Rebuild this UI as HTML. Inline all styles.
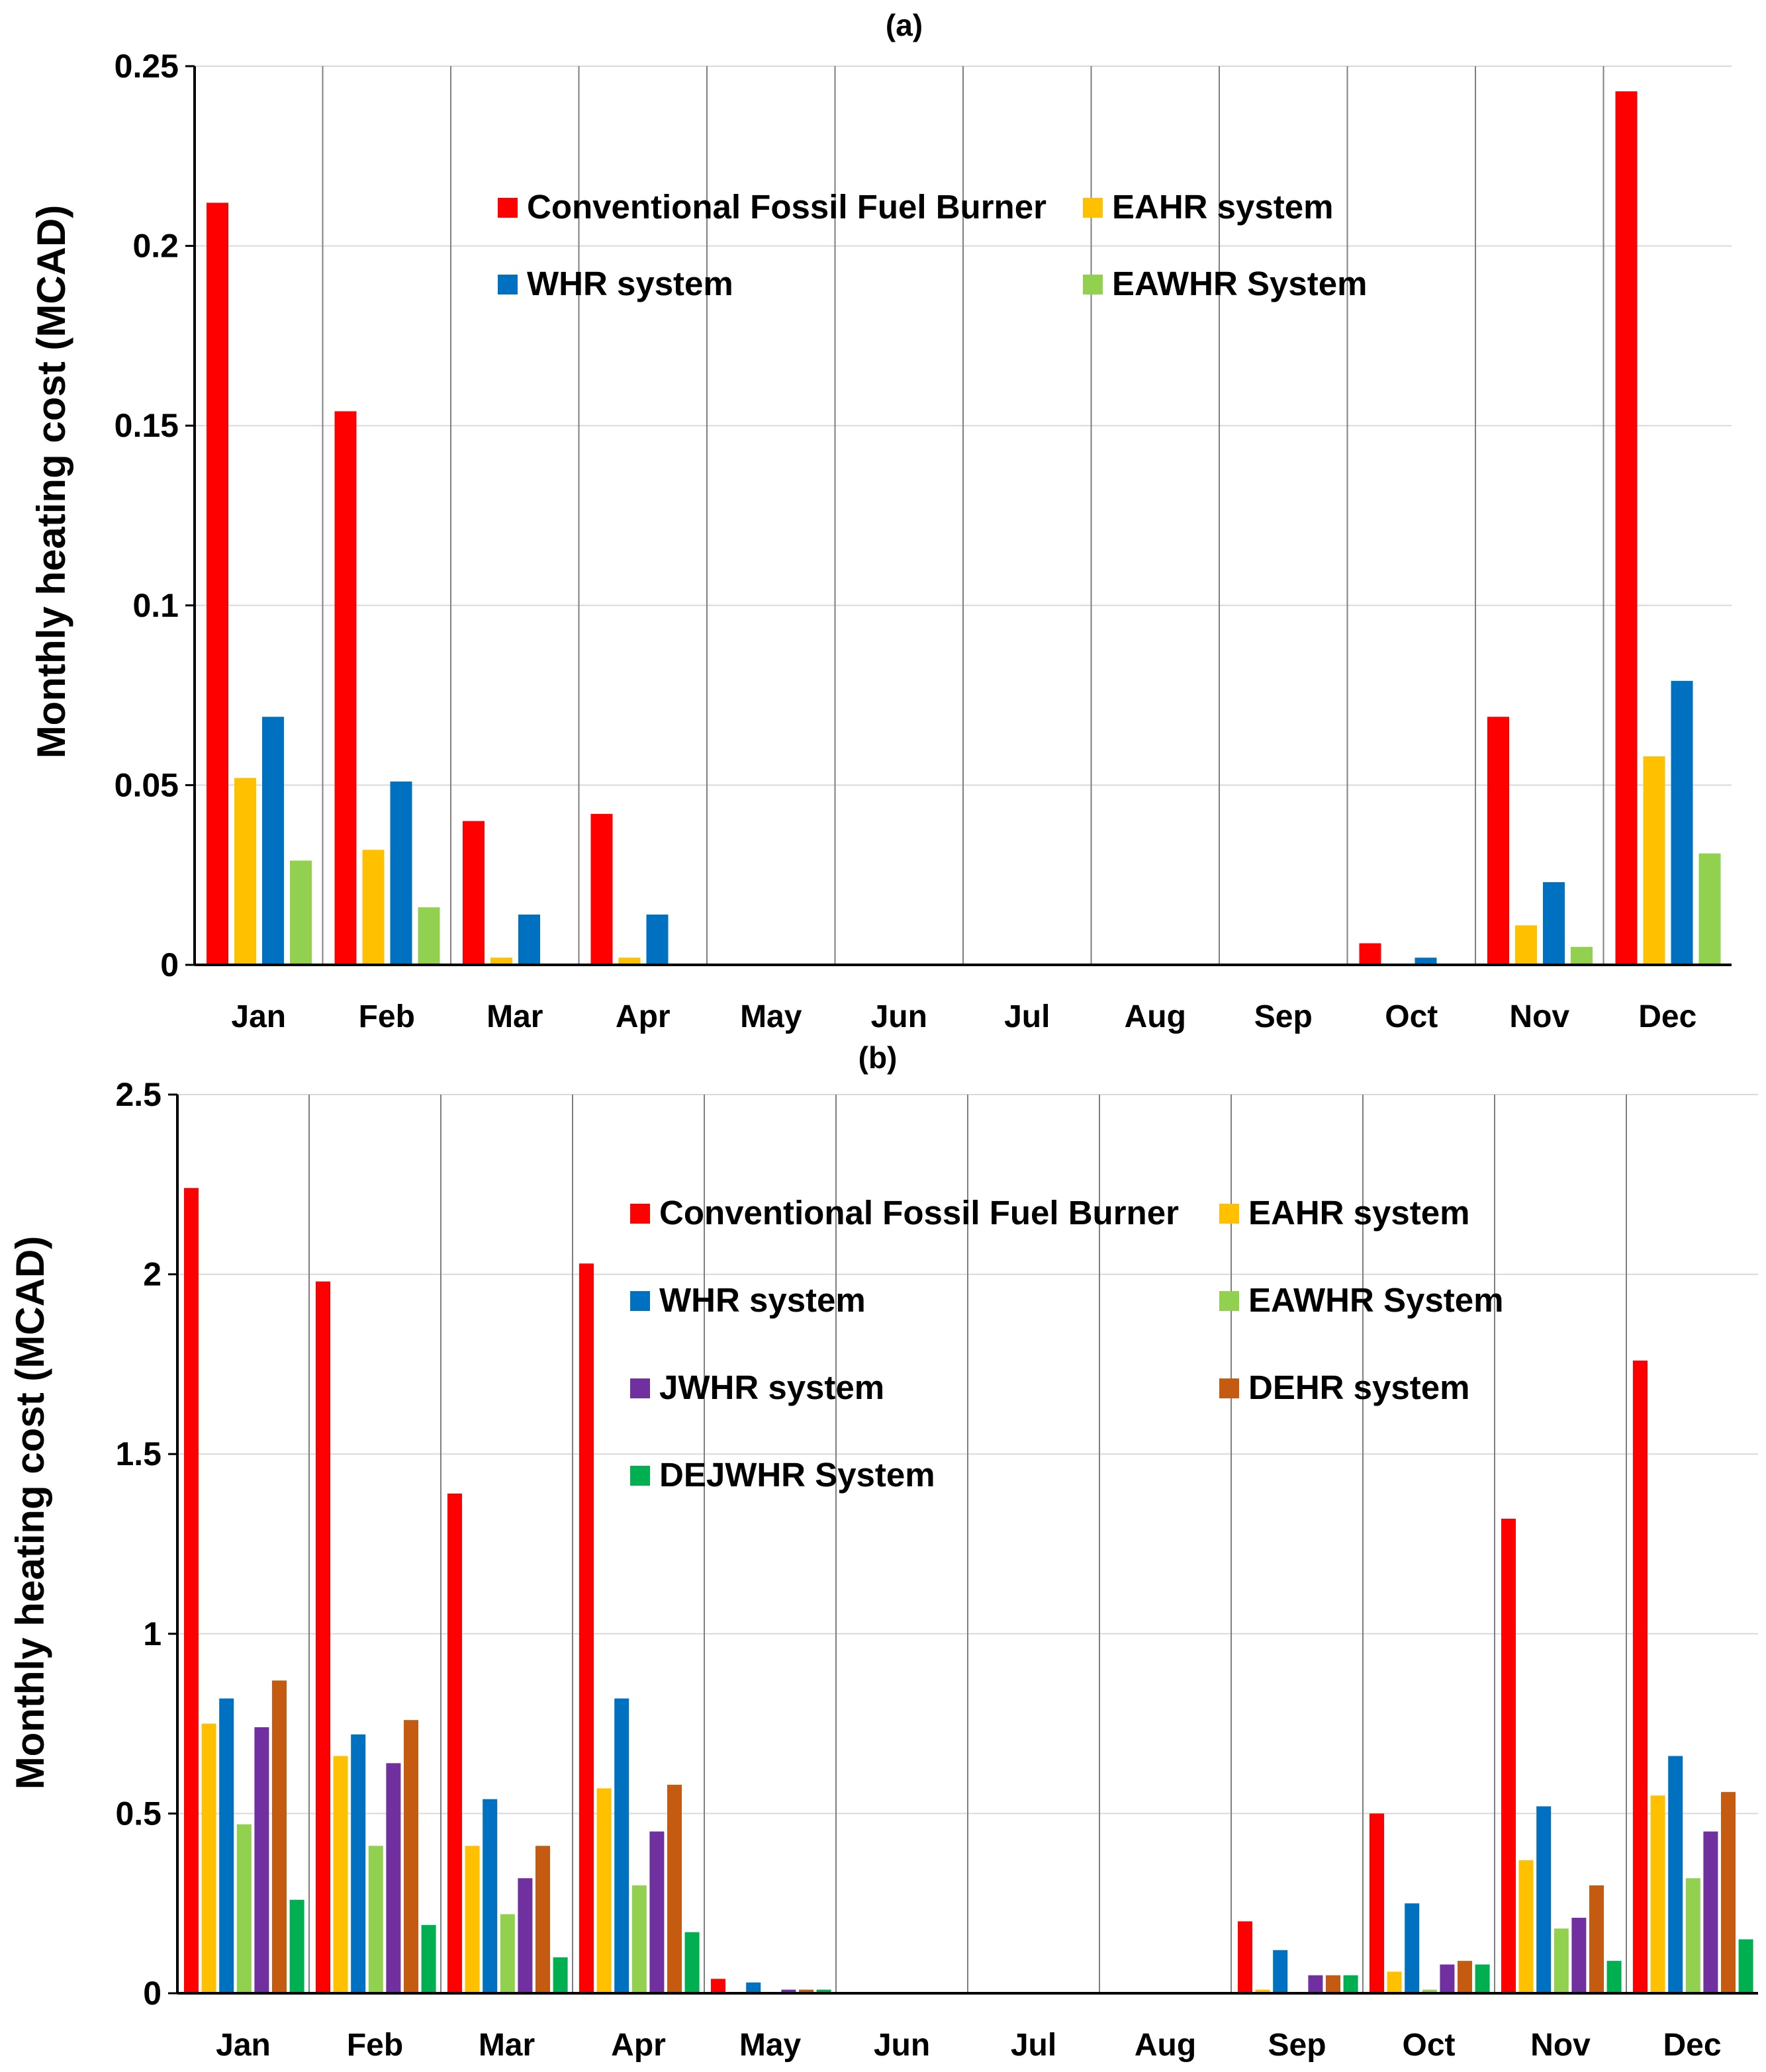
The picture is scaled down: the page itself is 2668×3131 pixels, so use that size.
<!DOCTYPE html>
<html><head><meta charset="utf-8"><style>
body{margin:0;background:#fff}
svg text{font-family:"Liberation Sans",sans-serif;font-weight:bold;fill:#000}
</style></head><body>
<svg id="chart" xmlns="http://www.w3.org/2000/svg" width="2668" height="3126" viewBox="0 0 2668 3126"></svg>
<script>
const months = ["Jan","Feb","Mar","Apr","May","Jun","Jul","Aug","Sep","Oct","Nov","Dec"];
const seriesNamesA = ["Conventional Fossil Fuel Burner","EAHR system","WHR system","EAWHR System"];
const fossilA = [0.212,0.154,0.040,0.042,0,0,0,0,0,0.006,0.069,0.243];
const eahrA   = [0.052,0.032,0.002,0.002,0,0,0,0,0,0,0.011,0.058];
const whrA    = [0.069,0.051,0.014,0.014,0,0,0,0,0,0.002,0.023,0.079];
const eawhrA  = [0.029,0.016,0,0,0,0,0,0,0,0,0.005,0.031];
const ticksA  = ["0","0.05","0.1","0.15","0.2","0.25"];
const tickValsA = [0,0.05,0.1,0.15,0.2,0.25];

const seriesNamesB = ["Conventional Fossil Fuel Burner","EAHR system","WHR system","EAWHR System","JWHR system","DEHR system","DEJWHR System"];
const fossilB = [2.24,1.98,1.39,2.03,0.04,0,0,0,0.20,0.50,1.32,1.76];
const eahrB   = [0.75,0.66,0.41,0.57,0,0,0,0,0.01,0.06,0.37,0.55];
const whrB    = [0.82,0.72,0.54,0.82,0.03,0,0,0,0.12,0.25,0.52,0.66];
const eawhrB  = [0.47,0.41,0.22,0.30,0,0,0,0,0,0.01,0.18,0.32];
const jwhrB   = [0.74,0.64,0.32,0.45,0.01,0,0,0,0.05,0.08,0.21,0.45];
const dehrB   = [0.87,0.76,0.41,0.58,0.01,0,0,0,0.05,0.09,0.30,0.56];
const dejwhrB = [0.26,0.19,0.10,0.17,0.01,0,0,0,0.05,0.08,0.09,0.15];
const ticksB  = ["0","0.5","1","1.5","2","2.5"];
const tickValsB = [0,0.5,1,1.5,2,2.5];

const svg = document.getElementById('chart');
const NS = "http://www.w3.org/2000/svg";
function mk(tag, attrs, parent){const e=document.createElementNS(NS,tag);for(const k in attrs)e.setAttribute(k,attrs[k]);(parent||svg).appendChild(e);return e;}

function drawChart(cfg){
  const g = mk('g',{});
  
  
  const mw = (cfg.x1 - cfg.x0) / months.length;
  const y = v => cfg.yb - (v / cfg.ymax) * (cfg.yb - cfg.yt);
  const xm = i => cfg.x0 + i * mw;
  cfg.tickVals.forEach((v,i)=>{
    if(v>0){const l=mk('line',{x1:cfg.x0,x2:cfg.x1,y1:y(v),y2:y(v),stroke:'#d9d9d9','stroke-width':2},g);
      
      }
    const t=mk('line',{x1:cfg.x0-14,x2:cfg.x0,y1:y(v),y2:y(v),stroke:'#000','stroke-width':3},g);
    
    
    const tx=mk('text',{x:cfg.x0-24,y:y(v)+17,'text-anchor':'end','font-size':50},g);
    tx.textContent=cfg.tickLabels[i];
    
    
  });
  for(let i=1;i<months.length;i++){
    const l=mk('line',{x1:xm(i),x2:xm(i),y1:cfg.yt,y2:cfg.yb,stroke:'#7f7f7f','stroke-width':2},g);
    
    
  }
  cfg.series.forEach((s,si)=>{
    s.forEach((v,mi)=>{
      if(v<=0) return;
      const r=mk('rect',{x:xm(mi)+cfg.off+si*cfg.step,y:y(v),width:cfg.bw,height:cfg.yb-y(v),fill:cfg.colors[si]},g);
      
      
    });
  });
  const ax=mk('line',{x1:cfg.x0,x2:cfg.x0,y1:cfg.yt,y2:cfg.yb,stroke:'#000','stroke-width':4},g);
  
  
  const bx=mk('line',{x1:cfg.x0,x2:cfg.x1,y1:cfg.yb,y2:cfg.yb,stroke:'#000','stroke-width':4},g);
  
  
  months.forEach((m,i)=>{
    const t=mk('text',{x:xm(i)+mw/2,y:cfg.yb+94,'text-anchor':'middle','font-size':48},g);
    t.textContent=m;
    
    
  });
  const yt=mk('text',{x:0,y:0,'text-anchor':'middle','font-size':60,transform:`translate(${cfg.titleX},${cfg.titleY}) rotate(-90)`},g);
  yt.textContent='Monthly heating cost (MCAD)';
  
  
  const pt=mk('text',{x:cfg.panelX,y:cfg.panelY,'text-anchor':'middle','font-size':46},g);
  pt.textContent=cfg.panel;
  
  
  cfg.names.forEach((n,i)=>{
    const col=i%2, row=Math.floor(i/2);
    const lx=cfg.legX[col], ly=cfg.legY0+row*cfg.legDy;
    const sq=mk('rect',{x:lx,y:ly-31,width:30,height:30,fill:cfg.colors[i]},g);
    
    
    const t=mk('text',{x:lx+44,y:ly,'font-size':51},g);
    t.textContent=n;
    
    
  });
}

drawChart({name:'chart-a',x0:294,x1:2616,yt:100,yb:1458,ymax:0.25,
  tickVals:tickValsA,tickLabels:ticksA,series:[fossilA,eahrA,whrA,eawhrA],
  colors:['#ff0000','#ffc000','#0070c0','#92d050'],off:18,bw:33,step:42,
  titleX:98,titleY:728,panel:'(a)',panelX:1366,panelY:54,
  names:seriesNamesA,legX:[752,1636],legY0:330,legDy:116});
drawChart({name:'chart-b',x0:268,x1:2656,yt:1654,yb:3012,ymax:2.5,
  tickVals:tickValsB,tickLabels:ticksB,series:[fossilB,eahrB,whrB,eawhrB,jwhrB,dehrB,dejwhrB],
  colors:['#ff0000','#ffc000','#0070c0','#92d050','#7030a0','#c55a11','#00b050'],off:10,bw:22,step:26.6,
  titleX:66,titleY:2286,panel:'(b)',panelX:1326,panelY:1614,
  names:seriesNamesB,legX:[952,1842],legY0:1850,legDy:132});
</script>
</body></html>
